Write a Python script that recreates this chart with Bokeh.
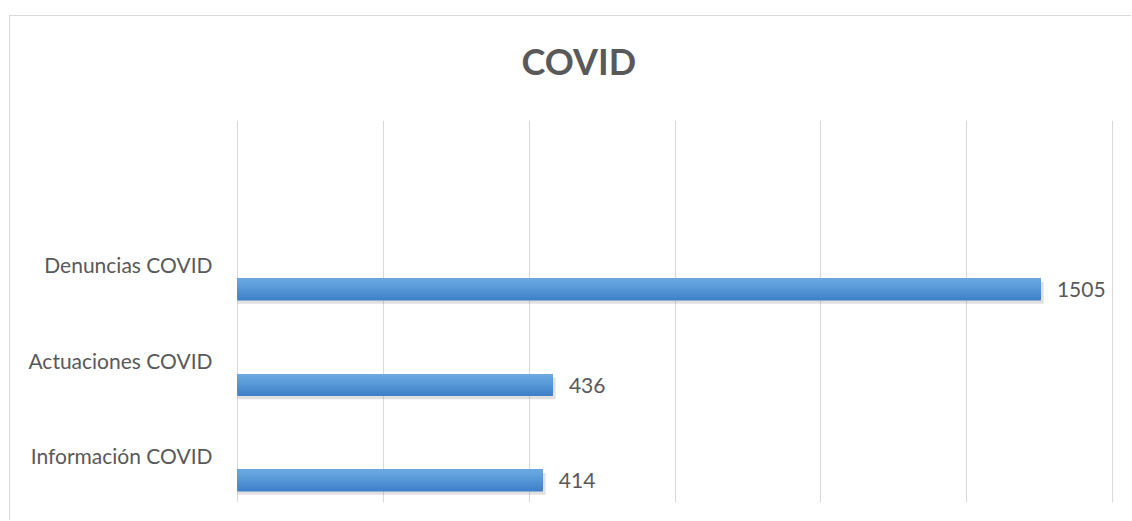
from bokeh.plotting import figure
from bokeh.models import FixedTicker, Title, ColumnDataSource
from bokeh.core.properties import value
from bokeh.embed import file_html
from bokeh.resources import INLINE

# ---- data ----
title_text = "COVID"
categories = ["Información COVID", "Actuaciones COVID", "Denuncias COVID"]
values = [414, 436, 1505]
value_labels = ["414", "436", "1505"]

# hidden value axis
X_MIN = -255
X_MAX = 1662
N_GRID = 6

FONT = "Lato"
TEXT_COLOR = "#595959"

ypos = list(range(len(categories)))
BAR_H = 0.23
LABEL_SHIFT = 0.262

p = figure(width=1122, height=505, output_backend="svg", toolbar_location=None,
           x_range=(X_MIN - 2, X_MAX + 2), y_range=(-0.23, len(categories) + 0.77),
           min_border_left=226, min_border_right=19, min_border_top=104,
           min_border_bottom=19, margin=(15, 0, 0, 9))
p.styles = {"border-left": "1px solid #d9d9d9", "border-top": "1px solid #d9d9d9"}
p.outline_line_color = None
p.background_fill_color = "white"
p.border_fill_color = "white"
p.xaxis.visible = False
p.ygrid.visible = False
step = (X_MAX - X_MIN) / N_GRID
p.xgrid.ticker = FixedTicker(ticks=[X_MIN + i * step for i in range(N_GRID + 1)])
p.xgrid.grid_line_color = "#d9d9d9"
p.xgrid.grid_line_width = 1

# category labels via the y axis
label_ticks = [y + LABEL_SHIFT for y in ypos]
yax = p.yaxis[0]
yax.ticker = FixedTicker(ticks=label_ticks)
yax.major_label_overrides = {t: c for t, c in zip(label_ticks, categories)}
yax.axis_line_color = None
yax.major_tick_line_color = None
yax.minor_tick_line_color = None
yax.major_tick_out = 0
yax.major_tick_in = 0
yax.major_label_standoff = 24
yax.major_label_text_font = FONT
yax.major_label_text_font_size = "21px"
yax.major_label_text_color = TEXT_COLOR

# shadow
shadow_y = [y - 0.035 for y in ypos]
p.hbar(y=shadow_y, left=X_MIN, right=[v + 6 for v in values], height=BAR_H,
       fill_color="#7f7f7f", fill_alpha=0.24, line_color=None)

# gradient bars: layered from bottom (dark) to top (light), each layer covering upward
stops = ["#3f80c8", "#4384cb", "#4788ce", "#4b8cd1", "#4f90d3", "#5394d5",
         "#5798d7", "#5b9bd9", "#5f9fdb", "#63a2dc", "#67a5de", "#6ba8df"]
n = len(stops)
for i, c in enumerate(stops):
    bottoms = [y - BAR_H / 2 + BAR_H * i / n for y in ypos]
    tops = [y + BAR_H / 2 for y in ypos]
    p.quad(left=X_MIN, right=values, bottom=bottoms, top=tops,
           fill_color=c, line_color=None)

src = ColumnDataSource(dict(y=ypos, x=values, lab=value_labels))
# value labels
p.text(x="x", y="y", text="lab", source=src, x_offset=16, text_align="left",
       text_baseline="middle", text_font=value(FONT), text_font_size="21px",
       text_color=TEXT_COLOR)

# spacer between title and plot area (nearest the frame), then the title
p.add_layout(Title(text=" ", text_font_size="1px", standoff=30), "above")
p.add_layout(Title(text=title_text, align="left", offset=285, text_font=FONT,
                   text_font_size="36px", text_font_style="bold",
                   text_color=TEXT_COLOR, standoff=10), "above")

open("out.html", "w").write(file_html(p, INLINE))
